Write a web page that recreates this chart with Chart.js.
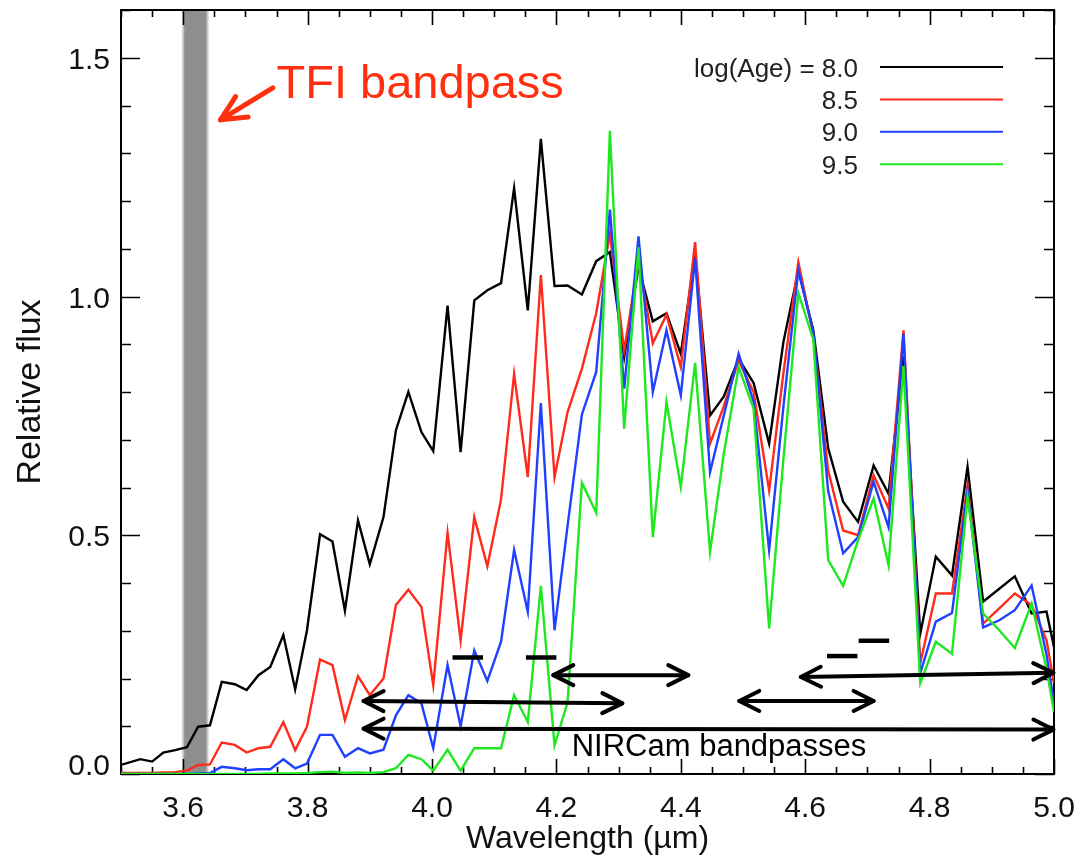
<!DOCTYPE html>
<html>
<head>
<meta charset="utf-8">
<title>Relative flux vs wavelength</title>
<script src="https://cdn.jsdelivr.net/npm/chart.js@4.4.1/dist/chart.umd.min.js"></script>
<style>
  html, body { margin: 0; padding: 0; background: #fff; }
  canvas { display: block; }
</style>
</head>
<body>
<canvas id="spectrum" width="1090" height="858"></canvas>
<script>
// wavelength grid (micron)
var wavelength = [3.500, 3.531, 3.550, 3.568, 3.587, 3.606, 3.624, 3.643, 3.662, 3.683,
  3.702, 3.721, 3.740, 3.761, 3.780, 3.799, 3.820, 3.840, 3.860, 3.881,
  3.900, 3.922, 3.942, 3.962, 3.983, 4.002, 4.025, 4.046, 4.068, 4.089,
  4.111, 4.132, 4.154, 4.175, 4.197, 4.218, 4.241, 4.264, 4.286, 4.309,
  4.332, 4.355, 4.377, 4.400, 4.423, 4.447, 4.469, 4.493, 4.517, 4.542,
  4.565, 4.589, 4.613, 4.637, 4.661, 4.685, 4.710, 4.734, 4.758, 4.785,
  4.810, 4.836, 4.861, 4.886, 4.912, 4.937, 4.964, 4.988, 5.000];

var age80 = [0.019, 0.031, 0.026, 0.045, 0.050, 0.056, 0.099, 0.102, 0.193, 0.188,
  0.176, 0.207, 0.224, 0.291, 0.177, 0.301, 0.502, 0.487, 0.342, 0.531,
  0.439, 0.538, 0.720, 0.800, 0.716, 0.676, 0.981, 0.674, 0.992, 1.013,
  1.028, 1.227, 0.971, 1.330, 1.022, 1.023, 1.004, 1.074, 1.093, 0.873,
  1.062, 0.948, 0.965, 0.880, 1.088, 0.751, 0.790, 0.870, 0.819, 0.692,
  0.905, 1.054, 0.930, 0.682, 0.570, 0.528, 0.646, 0.587, 0.875, 0.294,
  0.455, 0.416, 0.643, 0.361, 0.388, 0.414, 0.336, 0.340, 0.266];

var age85 = [0.002, 0.002, 0.002, 0.003, 0.004, 0.007, 0.019, 0.020, 0.066, 0.061,
  0.045, 0.054, 0.057, 0.109, 0.050, 0.099, 0.240, 0.228, 0.113, 0.205,
  0.165, 0.200, 0.354, 0.386, 0.350, 0.186, 0.505, 0.280, 0.538, 0.435,
  0.575, 0.838, 0.622, 1.045, 0.622, 0.758, 0.849, 0.965, 1.132, 0.887,
  1.075, 0.902, 0.962, 0.852, 1.114, 0.692, 0.770, 0.866, 0.800, 0.594,
  0.840, 1.072, 0.920, 0.635, 0.510, 0.500, 0.626, 0.556, 0.929, 0.232,
  0.378, 0.378, 0.605, 0.315, 0.347, 0.378, 0.354, 0.280, 0.190];

var age90 = [0.000, 0.000, 0.000, 0.000, 0.000, 0.000, 0.001, 0.002, 0.015, 0.012,
  0.008, 0.010, 0.010, 0.031, 0.012, 0.022, 0.082, 0.082, 0.036, 0.054,
  0.043, 0.051, 0.123, 0.165, 0.148, 0.054, 0.228, 0.100, 0.259, 0.195,
  0.277, 0.469, 0.340, 0.777, 0.301, 0.520, 0.753, 0.842, 1.182, 0.807,
  1.126, 0.800, 0.929, 0.793, 1.080, 0.632, 0.750, 0.880, 0.780, 0.469,
  0.770, 1.056, 0.925, 0.592, 0.462, 0.496, 0.612, 0.517, 0.922, 0.211,
  0.319, 0.337, 0.594, 0.307, 0.322, 0.343, 0.395, 0.250, 0.148];

var age95 = [0.000, 0.000, 0.000, 0.000, 0.000, 0.000, 0.000, 0.000, 0.000, 0.000,
  0.000, 0.000, 0.001, 0.001, 0.001, 0.002, 0.004, 0.005, 0.002, 0.003,
  0.002, 0.004, 0.012, 0.040, 0.031, 0.007, 0.051, 0.007, 0.054, 0.054,
  0.054, 0.165, 0.109, 0.394, 0.060, 0.150, 0.610, 0.547, 1.347, 0.723,
  1.103, 0.496, 0.779, 0.601, 0.861, 0.465, 0.670, 0.852, 0.765, 0.305,
  0.660, 1.007, 0.910, 0.448, 0.394, 0.490, 0.577, 0.437, 0.855, 0.190,
  0.277, 0.252, 0.580, 0.336, 0.301, 0.264, 0.357, 0.220, 0.130];

var ageLabels = ['8.0', '8.5', '9.0', '9.5'];
var ageColors = ['#000000', '#ff2a1a', '#2040ff', '#1ee81e'];

var xTickValues = [3.6, 3.8, 4.0, 4.2, 4.4, 4.6, 4.8, 5.0];
var xTickLabels = ['3.6', '3.8', '4.0', '4.2', '4.4', '4.6', '4.8', '5.0'];
var yTickValues = [0.0, 0.5, 1.0, 1.5];
var yTickLabels = ['0.0', '0.5', '1.0', '1.5'];

// TFI bandpass (micron)
var tfiBand = [3.600, 3.639];

// NIRCam bandpass arrows: [x1, y1, x2, y2] in data units
var nircamArrows = [
  [3.890, 0.153, 4.306, 0.148],
  [3.890, 0.095, 4.999, 0.093],
  [4.195, 0.207, 4.412, 0.207],
  [4.494, 0.153, 4.710, 0.153],
  [4.593, 0.203, 4.999, 0.212]
];
var nircamDashes = [
  [4.033, 0.244, 4.082, 0.244],
  [4.151, 0.244, 4.200, 0.244],
  [4.635, 0.247, 4.684, 0.247],
  [4.686, 0.279, 4.735, 0.279]
];

var FONT = "'Liberation Sans', Arial, Helvetica, sans-serif";

function chevron(ctx, tipX, tipY, fromX, fromY, len, half) {
  var ang = Math.atan2(tipY - fromY, tipX - fromX);
  var c = Math.cos(ang), s = Math.sin(ang);
  ctx.beginPath();
  ctx.moveTo(tipX - len * c + half * s, tipY - len * s - half * c);
  ctx.lineTo(tipX, tipY);
  ctx.lineTo(tipX - len * c - half * s, tipY - len * s + half * c);
  ctx.stroke();
}

var decorations = {
  id: 'decorations',
  beforeDatasetsDraw: function(chart) {
    var ctx = chart.ctx, a = chart.chartArea, x = chart.scales.x, y = chart.scales.y;
    ctx.save();
    // TFI band
    var b0 = x.getPixelForValue(tfiBand[0]), b1 = x.getPixelForValue(tfiBand[1]);
    ctx.fillStyle = '#c4c4c4';
    ctx.fillRect(b0 - 1, a.top, b1 - b0 + 2, a.bottom - a.top);
    ctx.fillStyle = '#8e8e8e';
    ctx.fillRect(b0 + 1, a.top, b1 - b0 - 2, a.bottom - a.top);

    // frame
    ctx.strokeStyle = '#000';
    ctx.lineWidth = 2;
    ctx.strokeRect(a.left, a.top, a.right - a.left, a.bottom - a.top);

    // inward ticks
    ctx.lineWidth = 1.6;
    ctx.beginPath();
    for (var i = 0; i <= 30; i++) {
      var px = Math.round(x.getPixelForValue(3.5 + i * 0.05)) + 0.5;
      var len = (i % 4 === 2) ? 15 : 7;
      ctx.moveTo(px, a.bottom); ctx.lineTo(px, a.bottom - len);
      ctx.moveTo(px, a.top); ctx.lineTo(px, a.top + len);
    }
    for (var j = 0; j <= 16; j++) {
      var py = Math.round(y.getPixelForValue(j * 0.1)) + 0.5;
      var ln = (j % 5 === 0) ? 19 : 10;
      ctx.moveTo(a.left, py); ctx.lineTo(a.left + ln, py);
      ctx.moveTo(a.right, py); ctx.lineTo(a.right - ln, py);
    }
    ctx.stroke();

    // tick labels
    ctx.fillStyle = '#111';
    ctx.font = '30px ' + FONT;
    ctx.textBaseline = 'alphabetic';
    ctx.textAlign = 'center';
    xTickValues.forEach(function(v, k) {
      ctx.fillText(xTickLabels[k], x.getPixelForValue(v), a.bottom + 43);
    });
    ctx.textAlign = 'right';
    yTickValues.forEach(function(v, k) {
      var base = Math.min(y.getPixelForValue(v) + 11, a.bottom + 1);
      ctx.fillText(yTickLabels[k], a.left - 11, base);
    });
    ctx.restore();
  },
  afterDatasetsDraw: function(chart) {
    var ctx = chart.ctx, a = chart.chartArea, x = chart.scales.x, y = chart.scales.y;
    ctx.save();
    ctx.strokeStyle = '#000';
    ctx.lineWidth = 4;
    ctx.lineCap = 'round';
    ctx.lineJoin = 'round';
    nircamArrows.forEach(function(r) {
      var x1 = x.getPixelForValue(r[0]), y1 = y.getPixelForValue(r[1]);
      var x2 = x.getPixelForValue(r[2]), y2 = y.getPixelForValue(r[3]);
      ctx.beginPath(); ctx.moveTo(x1, y1); ctx.lineTo(x2, y2); ctx.stroke();
      chevron(ctx, x1, y1, x2, y2, 20, 10);
      chevron(ctx, x2, y2, x1, y1, 20, 10);
    });
    ctx.lineCap = 'butt';
    ctx.lineWidth = 4.5;
    nircamDashes.forEach(function(r) {
      ctx.beginPath();
      ctx.moveTo(x.getPixelForValue(r[0]), y.getPixelForValue(r[1]));
      ctx.lineTo(x.getPixelForValue(r[2]), y.getPixelForValue(r[3]));
      ctx.stroke();
    });
    ctx.fillStyle = '#000';
    ctx.font = '31px ' + FONT;
    ctx.textAlign = 'left';
    ctx.textBaseline = 'alphabetic';
    ctx.fillText('NIRCam bandpasses', x.getPixelForValue(4.2246), y.getPixelForValue(0.0377));

    // TFI label and arrow
    var red = '#ff3010';
    ctx.strokeStyle = red;
    ctx.fillStyle = red;
    ctx.lineWidth = 5;
    ctx.lineCap = 'round';
    var tx = x.getPixelForValue(3.660), ty = y.getPixelForValue(1.370);
    var fx = x.getPixelForValue(3.744), fy = y.getPixelForValue(1.437);
    ctx.beginPath(); ctx.moveTo(fx, fy); ctx.lineTo(tx, ty); ctx.stroke();
    chevron(ctx, tx, ty, fx, fy, 25, 12);
    ctx.font = '47px ' + FONT;
    ctx.fillText('TFI bandpass', x.getPixelForValue(3.750), y.getPixelForValue(1.416));

    // legend
    ctx.font = '26px ' + FONT;
    ctx.textAlign = 'right';
    ctx.lineWidth = 2;
    ctx.lineCap = 'butt';
    chart.data.datasets.forEach(function(ds, k) {
      var rowY = a.top + 57 + k * 32.4;
      ctx.fillStyle = '#222';
      ctx.fillText((k === 0 ? 'log(Age) = ' : '') + ds.label, a.right - 196, rowY + 9.5);
      ctx.strokeStyle = ds.borderColor;
      ctx.beginPath(); ctx.moveTo(a.right - 174, rowY); ctx.lineTo(a.right - 51, rowY); ctx.stroke();
    });
    ctx.restore();
  }
};

var series = [age80, age85, age90, age95];
var datasets = series.map(function(values, k) {
  return {
    label: ageLabels[k],
    data: wavelength.map(function(w, i) { return {x: w, y: values[i]}; }),
    borderColor: ageColors[k],
    borderWidth: 2.4,
    pointRadius: 0,
    tension: 0,
    fill: false,
    order: 4 - k
  };
});

new Chart(document.getElementById('spectrum'), {
  type: 'line',
  data: { datasets: datasets },
  options: {
    responsive: false,
    devicePixelRatio: 1,
    animation: false,
    events: [],
    layout: { padding: { left: 0, top: 10, right: 36, bottom: 0 } },
    plugins: { legend: { display: false }, tooltip: { enabled: false } },
    scales: {
      x: {
        type: 'linear', min: 3.5, max: 5.0,
        grid: { display: false, drawTicks: false },
        border: { display: false },
        ticks: { display: false },
        afterFit: function(scale) { scale.height = 84; },
        title: { display: true, text: 'Wavelength (\u00b5m)', color: '#111',
                 font: { family: FONT, size: 32 }, padding: { top: 0, bottom: 0 } }
      },
      y: {
        type: 'linear', min: 0, max: 1.6,
        grid: { display: false, drawTicks: false },
        border: { display: false },
        ticks: { display: false },
        afterFit: function(scale) { scale.width = 121; },
        title: { display: true, text: 'Relative flux', color: '#111',
                 font: { family: FONT, size: 34 }, padding: { top: 10, bottom: 0 } }
      }
    }
  },
  plugins: [decorations]
});
</script>
</body>
</html>
